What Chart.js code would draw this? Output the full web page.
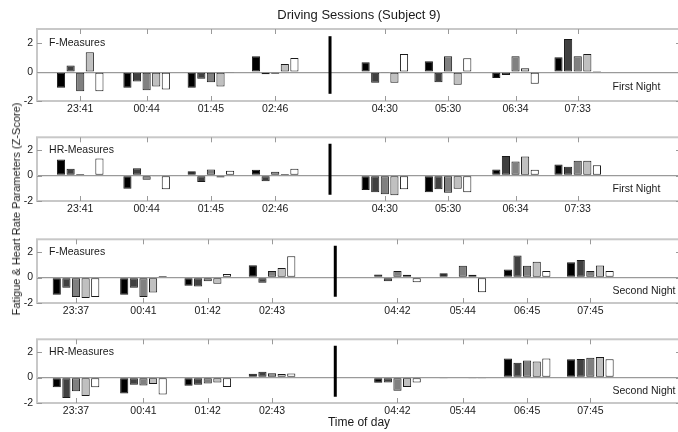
<!DOCTYPE html>
<html>
<head>
<meta charset="utf-8">
<script src="https://cdn.jsdelivr.net/npm/chart.js@4.4.1/dist/chart.umd.min.js"></script>
<style>
  html, body { margin: 0; padding: 0; background: #fff; overflow: hidden; }
  #wrap { position: relative; width: 678px; height: 432px; overflow: hidden; background: #fff; }
  canvas { position: absolute; left: 0; }
  #ytitle { position: absolute; left: 16px; top: 209px; transform: translate(-50%, -50%) rotate(-90deg);
    white-space: nowrap; font: 11px "Liberation Sans", Arial, sans-serif; color: #1a1a1a; }
</style>
</head>
<body>
<div id="wrap">
  <canvas id="c1" width="690" height="125" style="top:0px"></canvas>
  <canvas id="c2" width="690" height="98" style="top:127px"></canvas>
  <canvas id="c3" width="690" height="98" style="top:229px"></canvas>
  <canvas id="c4" width="690" height="103" style="top:329px"></canvas>
  <div id="ytitle">Fatigue &amp; Heart Rate Parameters (Z-Score)</div>
</div>
<script>
// ---------- DATA ----------
const chartTitle = 'Driving Sessions (Subject 9)';
const xAxisTitle = 'Time of day';
const yTickValues = [-2, 0, 2];
const night1Times = ['23:41', '00:44', '01:45', '02:46', '04:30', '05:30', '06:34', '07:33'];
const night2Times = ['23:37', '00:41', '01:42', '02:43', '04:42', '05:44', '06:45', '07:45'];
const separatorTimes = ['03:38', '03:43'];          // thick break line, night 1 / night 2
const separatorRange = [-1.5, 2.5];
const panelNames = ['F-Measures', 'HR-Measures', 'F-Measures', 'HR-Measures'];
const nightNames = ['First Night', 'First Night', 'Second Night', 'Second Night'];

// five measures per session (black, dark gray, gray, light gray, white)
const fNight1 = [
  [-1.08, -1.08, -1.08, 1.10, 0.69, 0.76, -0.41, 1.03],
  [0.46, -0.64, -0.46, -0.15, -0.74, -0.69, -0.20, 2.30],
  [-1.33, -1.26, -0.69, -0.10, -0.05, 1.10, 1.10, 1.10],
  [1.38, -0.99, -0.99, 0.57, -0.74, -0.87, 0.28, 1.26],
  [-1.33, -1.20, -0.05, 0.99, 1.26, 0.97, -0.80, 0.02]
];
const hrNight1 = [
  [1.26, -1.03, 0.34, 0.46, -1.13, -1.31, 0.48, 0.87],
  [0.53, 0.57, -0.50, -0.44, -1.31, -1.08, 1.54, 0.69],
  [0.11, -0.34, 0.48, 0.30, -1.47, -1.36, 1.10, 1.15],
  [0.00, -0.03, -0.16, 0.11, -1.54, -1.03, 1.49, 1.15],
  [1.33, -1.08, 0.37, 0.53, -1.08, -1.31, 0.46, 0.80]
];
const fNight2 = [
  [-1.36, -1.36, -0.64, 0.97, 0.23, 0.34, 0.62, 1.20],
  [-0.80, -0.80, -0.71, -0.41, -0.30, 0.00, 1.72, 1.38],
  [-1.52, -1.52, -0.30, 0.51, 0.51, 0.92, 0.92, 0.51],
  [-1.61, -1.17, -0.48, 0.74, 0.21, 0.21, 1.24, 0.94],
  [-1.52, 0.11, 0.28, 1.66, -0.37, -1.15, 0.51, 0.51]
];
const hrNight2 = [
  [-0.76, -1.26, -0.64, 0.30, -0.41, -0.04, 1.49, 1.43],
  [-1.61, -0.57, -0.57, 0.46, -0.39, 0.06, 1.15, 1.45],
  [-1.08, -0.62, -0.46, 0.34, -1.03, 0.00, 1.33, 1.56],
  [-1.45, -0.50, -0.39, 0.28, -0.74, -0.03, 1.26, 1.61],
  [-0.76, -1.33, -0.74, 0.32, -0.39, -0.03, 1.49, 1.43]
];

// ---------- STYLE ----------
const FONT = '"Liberation Sans", Arial, sans-serif';
const barColors = ['#000000', '#404040', '#808080', '#c0c0c0', '#ffffff'];
const X_MIN = 0, X_MAX = 611;   // minutes after 23:00

function toMinutes(t) {
  const [h, m] = t.split(':').map(Number);
  return ((h * 60 + m) - 23 * 60 + 1440) % 1440;
}

const boxPlugin = {
  id: 'matlabBox',
  afterDraw(chart, args, opts) {
    const { ctx, chartArea: a, scales: { x, y } } = chart;
    ctx.save();
    ctx.strokeStyle = '#c8c8c8';
    ctx.lineWidth = 2;
    ctx.strokeRect(a.left, a.top, a.right - a.left, a.bottom - a.top);
    ctx.strokeStyle = '#9a9a9a';
    ctx.lineWidth = 1;
    ctx.beginPath();
    x.ticks.forEach(t => {
      const px = Math.round(x.getPixelForValue(t.value)) + 0.5;
      ctx.moveTo(px, a.top); ctx.lineTo(px, a.top + 5);
      ctx.moveTo(px, a.bottom - 5); ctx.lineTo(px, a.bottom);
    });
    y.ticks.forEach(t => {
      const py = Math.round(y.getPixelForValue(t.value)) + 0.5;
      ctx.moveTo(a.left, py); ctx.lineTo(a.left + 5, py);
      ctx.moveTo(a.right - 5, py); ctx.lineTo(a.right, py);
    });
    ctx.stroke();
    ctx.fillStyle = '#1a1a1a';
    ctx.font = '10.5px ' + FONT;
    ctx.textBaseline = 'middle';
    ctx.textAlign = 'left';
    (opts.labels || []).forEach(l => {
      ctx.fillText(l.text, x.getPixelForValue(l.x), y.getPixelForValue(l.y));
    });
    ctx.restore();
  }
};

function makeChart(id, times, series, sepTime, panelName, nightName, catPct, extra) {
  const xs = times.map(toMinutes);
  const sx = toMinutes(sepTime);
  const datasets = series.map((vals, k) => ({
    type: 'bar',
    label: 'Measure ' + (k + 1),
    data: vals.map((v, i) => ({ x: xs[i], y: v })),
    backgroundColor: barColors[k],
    borderColor: '#1a1a1a',
    borderWidth: 1,
    borderSkipped: false,
    categoryPercentage: catPct,
    barPercentage: 0.85
  }));
  datasets.push({
    type: 'line',
    label: 'break',
    data: separatorRange.map(v => ({ x: sx, y: v })),
    borderColor: '#000',
    borderWidth: 3,
    pointRadius: 0,
    borderCapStyle: 'butt'
  });
  return new Chart(document.getElementById(id), {
    type: 'bar',
    data: { datasets },
    plugins: [boxPlugin],
    options: {
      responsive: false,
      animation: false,
      devicePixelRatio: 1,
      layout: { padding: { left: 0, right: 9, top: extra.padTop, bottom: 0 } },
      plugins: {
        legend: { display: false },
        tooltip: { enabled: false },
        title: extra.title ? {
          display: true, text: extra.title, fullSize: false, color: '#1a1a1a',
          font: { family: FONT, size: 13, weight: 'normal', lineHeight: 1.2 },
          padding: { top: 8, bottom: 5.4 }
        } : { display: false },
        matlabBox: {
          labels: [
            { text: panelName, x: 11.5, y: 2 },
            { text: nightName, x: 546, y: -1.05 }
          ]
        }
      },
      scales: {
        x: {
          type: 'linear', min: X_MIN, max: X_MAX, offset: false,
          afterBuildTicks: s => { s.ticks = xs.map(v => ({ value: v })); },
          afterFit: s => { s.height = extra.xHeight; },
          grid: { display: false, drawTicks: false },
          border: { display: false },
          ticks: {
            autoSkip: false, maxRotation: 0, padding: 1.7, color: '#1a1a1a',
            font: { family: FONT, size: 10.5 },
            callback: (v, i) => times[i]
          },
          title: extra.xTitle ? {
            display: true, text: extra.xTitle, color: '#1a1a1a',
            font: { family: FONT, size: 12, lineHeight: 1.2 },
            padding: { top: 0, bottom: 2.3 }
          } : { display: false }
        },
        y: {
          type: 'linear', min: -2, max: 3,
          afterBuildTicks: s => { s.ticks = yTickValues.map(v => ({ value: v })); },
          afterFit: s => { s.width = 37; },
          grid: {
            drawTicks: false,
            color: c => (c.tick && c.tick.value === 0) ? '#9a9a9a' : 'rgba(0,0,0,0)',
            lineWidth: 1.3
          },
          border: { display: false },
          ticks: {
            padding: 4, color: '#1a1a1a',
            font: { family: FONT, size: 10.5 },
            callback: v => String(v)
          }
        }
      }
    }
  });
}

makeChart('c1', night1Times, fNight1, separatorTimes[0], panelNames[0], nightNames[0], 0.772,
  { title: chartTitle, padTop: 0, xHeight: 24 });
makeChart('c2', night1Times, hrNight1, separatorTimes[0], panelNames[1], nightNames[1], 0.772,
  { padTop: 2, xHeight: 24 });
makeChart('c3', night2Times, fNight2, separatorTimes[1], panelNames[2], nightNames[2], 0.76,
  { padTop: 2, xHeight: 24 });
makeChart('c4', night2Times, hrNight2, separatorTimes[1], panelNames[3], nightNames[3], 0.76,
  { padTop: 2, xHeight: 29, xTitle: xAxisTitle });
</script>
</body>
</html>
